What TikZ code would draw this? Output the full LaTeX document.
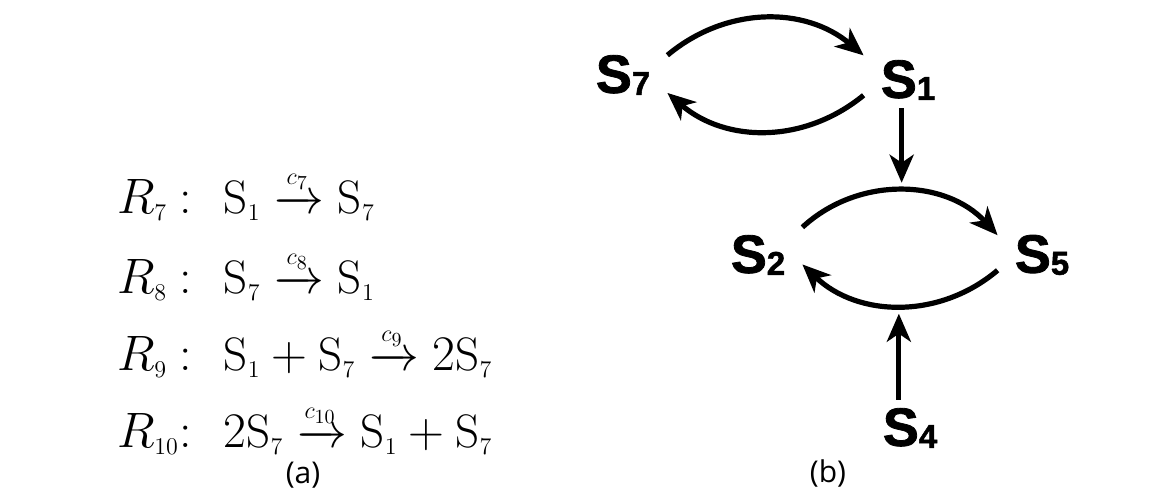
\documentclass[tikz,border=0pt]{standalone}
\usepackage{amsmath}
\usepackage{fontspec}
\usetikzlibrary{arrows.meta}
\newfontfamily\spcfont{Liberation Sans}[BoldFeatures={FakeBold=1.5}]
\newfontfamily\capfont{Open Sans}
\DeclareMathSizes{23.5}{23.5}{13}{10}
\newcommand{\spc}[1]{{\fontsize{27}{27}\selectfont S}\raisebox{-1pt}{\fontsize{16.5}{16.5}\selectfont #1}}
\newcommand{\reac}[2]{\makebox[31pt][l]{$#1$}$:$\hspace{16pt}$#2$}

\begin{document}
\begin{tikzpicture}[x=0.5pt,y=0.5pt,
    spc/.style={font=\spcfont\bfseries, inner sep=0pt,
      minimum width=44pt, minimum height=28pt},
    eqn/.style={anchor=base west, inner sep=0pt,
      font=\fontsize{23.5}{28}\selectfont},
    arr/.style={-{Stealth[length=14pt,width=12pt,inset=4pt]}, line width=2.6pt},
    subcap/.style={font=\capfont\fontsize{15}{17}\selectfont},
  ]
  \useasboundingbox (0,0) rectangle (1164,495);

  % (a) reactions
  \node[eqn] (r7)  at (117,282) {\reac{R_7}{\mathrm{S}_1 \xrightarrow{c_7} \mathrm{S}_7}};
  \node[eqn] (r8)  at (117,202) {\reac{R_8}{\mathrm{S}_7 \xrightarrow{c_8} \mathrm{S}_1}};
  \node[eqn] (r9)  at (117,125) {\reac{R_9}{\mathrm{S}_1 + \mathrm{S}_7 \xrightarrow{c_9} 2\mathrm{S}_7}};
  \node[eqn] (r10) at (117,48)  {\reac{R_{10}}{2\mathrm{S}_7 \xrightarrow{c_{10}} \mathrm{S}_1 + \mathrm{S}_7}};

  % (b) species graph
  \node[spc] (s7) at (623,420) {\spc{7}};
  \node[spc] (s1) at (908,415) {\spc{1}};
  \node[spc] (s2) at (758,240) {\spc{2}};
  \node[spc] (s5) at (1042,240) {\spc{5}};
  \node[spc] (s4) at (910,67)  {\spc{4}};

  \draw[arr] (s7.24) to[bend left=40] (s1.151);
  \draw[arr] (s1.199) to[bend left=40] (s7.-22);
  \draw[arr] (s2.32) to[bend left=45] coordinate[pos=0.5] (top25) (s5.156);
  \draw[arr] (s5.199) to[bend left=42] coordinate[pos=0.5] (bot52) (s2.-12);
  \draw[arr, shorten >=4pt] (s1.south -| top25) -- (top25);
  \draw[arr, shorten >=4pt] (s4.north -| bot52) -- (bot52);

  % captions
  \node[subcap] (capa) at (303,20) {(a)};
  \node[subcap] (capb) at (828,22) {(b)};
\end{tikzpicture}
\end{document}
